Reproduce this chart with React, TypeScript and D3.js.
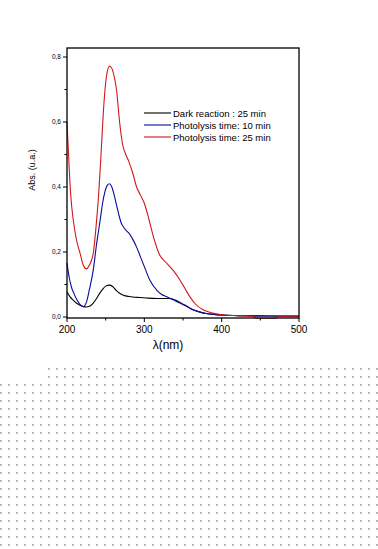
import React from "react";
import * as d3 from "d3";

const W = 378;
const H = 549;

const darkWl = [200, 204, 208, 212, 217, 221, 225, 229, 234, 238, 242, 246, 250, 255, 259, 264, 268, 273, 280, 287, 294, 305, 316, 325, 333, 340, 346, 355, 363, 372, 380, 390, 400, 430, 460, 500];
const darkAbs = [0.078, 0.062, 0.052, 0.043, 0.036, 0.032, 0.031, 0.033, 0.043, 0.056, 0.072, 0.085, 0.095, 0.098, 0.094, 0.081, 0.073, 0.067, 0.063, 0.061, 0.060, 0.058, 0.057, 0.057, 0.057, 0.052, 0.045, 0.033, 0.022, 0.015, 0.011, 0.008, 0.006, 0.004, 0.003, 0.002];

const blueWl = [200, 203, 206, 209, 213, 217, 221, 225, 229, 234, 238, 243, 246, 249, 252, 255, 258, 261, 264, 267, 270, 273, 277, 281, 286, 290, 295, 300, 307, 316, 322, 329, 338, 346, 355, 363, 372, 380, 390, 400, 430, 460, 500];
const blueAbs = [0.166, 0.12, 0.09, 0.072, 0.052, 0.038, 0.032, 0.045, 0.085, 0.145, 0.22, 0.3, 0.35, 0.385, 0.405, 0.41, 0.4, 0.375, 0.345, 0.315, 0.29, 0.277, 0.265, 0.255, 0.235, 0.215, 0.185, 0.155, 0.114, 0.083, 0.07, 0.062, 0.052, 0.043, 0.032, 0.022, 0.015, 0.011, 0.008, 0.006, 0.004, 0.003, 0.003];

const redWl = [200, 201, 203, 205, 208, 212, 217, 221, 225, 229, 234, 238, 241, 244, 247, 251, 255, 258, 261, 264, 268, 272, 276, 280, 285, 290, 295, 300, 306, 312, 320, 327, 333, 340, 346, 352, 359, 366, 376, 388, 400, 420, 440, 445, 470, 472, 500];
const redAbs = [0.6, 0.55, 0.45, 0.37, 0.3, 0.24, 0.195, 0.16, 0.148, 0.16, 0.197, 0.29, 0.38, 0.5, 0.63, 0.74, 0.772, 0.765, 0.74, 0.7, 0.6, 0.53, 0.5, 0.478, 0.443, 0.4, 0.375, 0.35, 0.3, 0.245, 0.19, 0.17, 0.155, 0.135, 0.114, 0.09, 0.062, 0.04, 0.022, 0.012, 0.007, 0.004, 0.002, -0.004, -0.004, 0.001, 0.001];

const seriesNames = ["Dark reaction :  25 min", "Photolysis time: 10 min", "Photolysis time: 25 min"];
const seriesColors = ["#000000", "#0a0a9c", "#d01818"];

const xTicks = [200, 300, 400, 500];
const xMinorTicks = [250, 350, 450];
const yTicks = [0, 0.2, 0.4, 0.6, 0.8];
const yTickLabels = ["0,0", "0,2", "0,4", "0,6", "0,8"];
const yMinorTicks = [0.1, 0.3, 0.5, 0.7];

export default function App() {
  const left = 67, right = 299, top = 48, bottom = 318;
  const x = d3.scaleLinear().domain([200, 500]).range([left, right]);
  const y = d3.scaleLinear().domain([0, 0.8]).range([bottom - 1, 57]);

  const line = d3
    .line<[number, number]>()
    .x((d) => x(d[0]))
    .y((d) => y(d[1]))
    .curve(d3.curveMonotoneX);

  const series = [
    darkWl.map((w, i) => [w, darkAbs[i]] as [number, number]),
    blueWl.map((w, i) => [w, blueAbs[i]] as [number, number]),
    redWl.map((w, i) => [w, redAbs[i]] as [number, number]),
  ];

  const dots: { cx: number; cy: number }[] = [];
  for (const gy of d3.range(368, H, 8)) {
    for (const gx of d3.range(0, W, 8)) {
      if (gy < 384 && gx < 48) continue;
      dots.push({ cx: gx, cy: gy });
    }
  }

  return (
    <svg
      width={W}
      height={H}
      style={{ position: "absolute", left: 0, top: 0, background: "#fff" }}
      fontFamily="Arial, 'Liberation Sans', sans-serif"
    >
      <rect x={0} y={0} width={W} height={H} fill="#fff" />
      {dots.map((d, i) => (
        <g key={i}>
          <rect x={d.cx} y={d.cy} width={1} height={1} fill="#9a9a9a" />
          <rect x={d.cx + 1} y={d.cy} width={1} height={1} fill="#cfcfcf" />
          <rect x={d.cx} y={d.cy + 1} width={1} height={1} fill="#cfcfcf" />
          <rect x={d.cx + 1} y={d.cy + 1} width={1} height={1} fill="#b0b0b0" />
        </g>
      ))}

      {series.map((s, i) => (
        <path key={i} d={line(s) || ""} fill="none" stroke={seriesColors[i]} strokeWidth={1.1} />
      ))}

      <rect x={left} y={top} width={right - left} height={bottom - top} fill="none" stroke="#000" strokeWidth={1.3} />

      {yTicks.map((t, i) => (
        <g key={"y" + i}>
          <line x1={left - 4} x2={left} y1={y(t)} y2={y(t)} stroke="#000" strokeWidth={1} />
          <text x={left - 6} y={y(t) + 2} fontSize={6.5} textAnchor="end" fill="#000">
            {yTickLabels[i]}
          </text>
        </g>
      ))}
      {yMinorTicks.map((t, i) => (
        <line key={"ym" + i} x1={left - 2.5} x2={left} y1={y(t)} y2={y(t)} stroke="#000" strokeWidth={1} />
      ))}
      {xTicks.map((t, i) => (
        <g key={"x" + i}>
          <line x1={x(t)} x2={x(t)} y1={bottom} y2={bottom + 4} stroke="#000" strokeWidth={1} />
          <text x={x(t)} y={333} fontSize={10} textAnchor="middle" fill="#000">
            {t}
          </text>
        </g>
      ))}
      {xMinorTicks.map((t, i) => (
        <line key={"xm" + i} x1={x(t)} x2={x(t)} y1={bottom} y2={bottom + 2.5} stroke="#000" strokeWidth={1} />
      ))}

      <text x={168} y={349} fontSize={12} textAnchor="middle" fill="#000">
        λ(nm)
      </text>
      <text
        transform="translate(35,170) rotate(-90)"
        fontSize={9}
        textAnchor="middle"
        fill="#000"
      >
        Abs. (u.a.)
      </text>

      {seriesNames.map((n, i) => (
        <g key={"l" + i}>
          <line x1={144} x2={171} y1={113 + i * 12} y2={113 + i * 12} stroke={seriesColors[i]} strokeWidth={1.1} />
          <text x={173} y={116.5 + i * 12} fontSize={9.5} fill="#000">
            {n}
          </text>
        </g>
      ))}
    </svg>
  );
}
